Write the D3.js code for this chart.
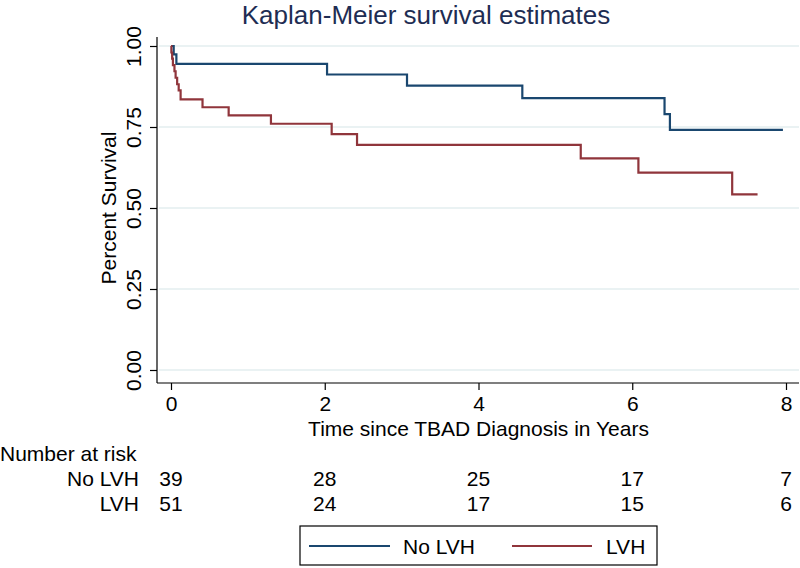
<!DOCTYPE html>
<html>
<head>
<meta charset="utf-8">
<script src="https://cdn.jsdelivr.net/npm/d3@7"></script>
<style>
  html, body { margin: 0; padding: 0; background: #fff; }
  svg text { font-family: "Liberation Sans", Arial, Helvetica, sans-serif; }
</style>
</head>
<body>
<svg id="chart" width="800" height="568"></svg>
<script>
// ---- data ----
const title = "Kaplan-Meier survival estimates";
const xLabel = "Time since TBAD Diagnosis in Years";
const yLabel = "Percent Survival";
const seriesNames = ["No LVH", "LVH"];
const seriesColors = ["#1a476f", "#90353b"];

const timesNoLVH = [0, 0.035, 0.07, 2.03, 3.07, 4.57, 6.42, 6.49, 7.96];
const survNoLVH  = [1, 0.974, 0.945, 0.912, 0.878, 0.839, 0.790, 0.741, 0.741];

const timesLVH = [0, 0.005, 0.015, 0.025, 0.045, 0.06, 0.08, 0.10, 0.125, 0.41, 0.75, 1.30, 2.09, 2.42, 5.33, 6.08, 7.30, 7.63];
const survLVH  = [1, 0.980, 0.961, 0.941, 0.922, 0.902, 0.882, 0.863, 0.835, 0.811, 0.786, 0.760, 0.728, 0.695, 0.653, 0.609, 0.542, 0.542];

const xTicks = [0, 2, 4, 6, 8];
const yTicks = [0, 0.25, 0.5, 0.75, 1];

const riskLabel = "Number at risk";
const riskTimes = [0, 2, 4, 6, 8];
const riskNoLVH = [39, 28, 25, 17, 7];
const riskLVH   = [51, 24, 17, 15, 6];

// ---- layout ----
const svg = d3.select("#chart");
const x = d3.scaleLinear().domain([0, 8]).range([171, 786]);
const y = d3.scaleLinear().domain([0, 1]).range([370, 46]);
const axisX = 157, axisY = 383;
const fs = 21;

// title
svg.append("text").attr("x", 426).attr("y", 23.5).attr("text-anchor", "middle")
  .attr("font-size", 26).attr("fill", "#1e2d53").text(title);

// gridlines
svg.append("g").selectAll("line").data(yTicks).join("line")
  .attr("x1", axisX + 2).attr("x2", 799)
  .attr("y1", d => y(d)).attr("y2", d => y(d))
  .attr("stroke", "#eaf2f3").attr("stroke-width", 2);

// x axis
const gx = svg.append("g").attr("transform", `translate(0,${axisY})`)
  .call(d3.axisBottom(x).tickValues(xTicks).tickSize(7).tickPadding(6).tickFormat(d3.format("d")));
gx.select(".domain").remove();
gx.selectAll(".tick line").attr("stroke", "#000").attr("stroke-width", 1.2);
gx.selectAll(".tick text").attr("font-size", fs).attr("fill", "#000")
  .attr("font-family", "Liberation Sans, Arial, sans-serif");
svg.append("line").attr("x1", axisX).attr("x2", 799).attr("y1", axisY).attr("y2", axisY)
  .attr("stroke", "#000").attr("stroke-width", 1.2);

// y axis
const gy = svg.append("g").attr("transform", `translate(${axisX},0)`)
  .call(d3.axisLeft(y).tickValues(yTicks).tickSize(7).tickFormat(d3.format(".2f")));
gy.select(".domain").remove();
gy.selectAll(".tick line").attr("stroke", "#000").attr("stroke-width", 1.2);
gy.selectAll(".tick text")
  .attr("font-size", fs).attr("fill", "#000")
  .attr("font-family", "Liberation Sans, Arial, sans-serif")
  .attr("x", null).attr("dy", null)
  .attr("text-anchor", "middle")
  .attr("transform", "translate(-16,0) rotate(-90)");
svg.append("line").attr("x1", axisX).attr("x2", axisX).attr("y1", 37).attr("y2", axisY)
  .attr("stroke", "#000").attr("stroke-width", 1.2);

// axis titles
svg.append("text").attr("x", (x(0) + x(8)) / 2).attr("y", 436).attr("text-anchor", "middle")
  .attr("font-size", fs).attr("fill", "#000").text(xLabel);
svg.append("text").attr("transform", `translate(116,${(y(0) + y(1)) / 2}) rotate(-90)`)
  .attr("text-anchor", "middle").attr("font-size", fs).attr("fill", "#000").text(yLabel);

// curves
const line = d3.line().x(d => x(d[0])).y(d => y(d[1])).curve(d3.curveStepAfter);
const curves = [d3.zip(timesNoLVH, survNoLVH), d3.zip(timesLVH, survLVH)];
svg.append("g").selectAll("path").data(curves).join("path")
  .attr("d", line).attr("fill", "none")
  .attr("stroke", (d, i) => seriesColors[i]).attr("stroke-width", 2.2)
  .attr("stroke-linejoin", "miter");

// number at risk table
svg.append("text").attr("x", 0).attr("y", 461).attr("font-size", fs).attr("fill", "#000").text(riskLabel);
const rows = [riskNoLVH, riskLVH];
rows.forEach((row, r) => {
  const yy = 486 + r * 25;
  svg.append("text").attr("x", 139).attr("y", yy).attr("text-anchor", "end")
    .attr("font-size", fs).attr("fill", "#000").text(seriesNames[r]);
  svg.append("g").selectAll("text").data(row).join("text")
    .attr("x", (d, i) => x(riskTimes[i])).attr("y", yy).attr("text-anchor", "middle")
    .attr("font-size", fs).attr("fill", "#000").text(d => d);
});

// legend
const lg = svg.append("g");
lg.append("rect").attr("x", 300).attr("y", 526).attr("width", 357).attr("height", 39)
  .attr("fill", "#fff").attr("stroke", "#000").attr("stroke-width", 1.2);
const legX = [[309, 390, 403], [512, 592, 606]];
seriesNames.forEach((name, i) => {
  lg.append("line").attr("x1", legX[i][0]).attr("x2", legX[i][1]).attr("y1", 546).attr("y2", 546)
    .attr("stroke", seriesColors[i]).attr("stroke-width", 2.2);
  lg.append("text").attr("x", legX[i][2]).attr("y", 554).attr("font-size", fs).attr("fill", "#000").text(name);
});
</script>
</body>
</html>
